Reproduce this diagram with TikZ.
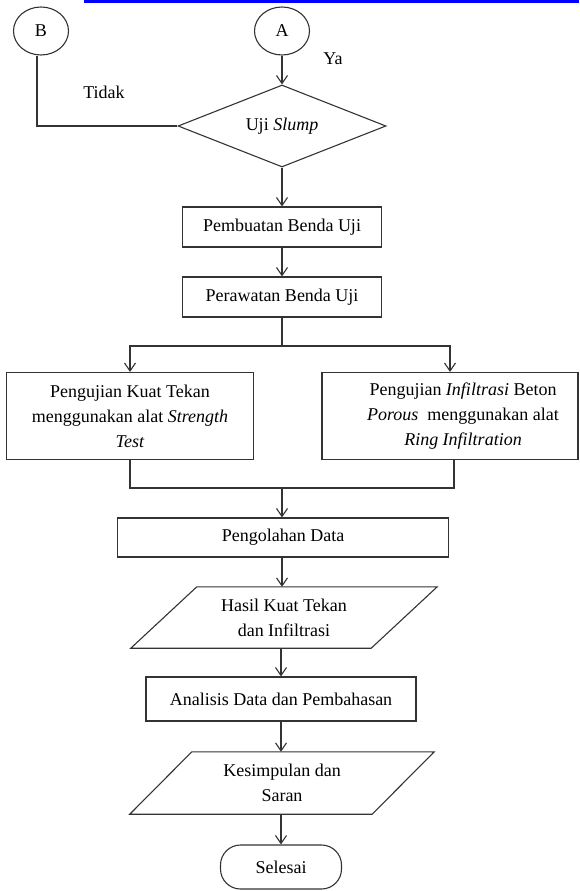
\documentclass[tikz,border=0pt]{standalone}
\usepackage{fontspec}
\setmainfont{Liberation Serif}
\usetikzlibrary{shapes.geometric, arrows.meta}

\tikzset{
  every node/.style={font=\fontsize{18}{25}\selectfont, inner sep=2pt},
  line/.style={draw=black!80, line width=1.1pt},
  arrow/.style={line, -{Straight Barb[length=8pt, width=11pt]}},
  box/.style={line, rectangle, minimum height=40pt},
  decision/.style={line, diamond, aspect=2.5, minimum width=208pt, minimum height=82pt},
  connector/.style={line, ellipse, minimum width=55pt, minimum height=48pt, inner sep=0pt},
  io/.style={rectangle, minimum width=240pt, align=center},
  term/.style={line, rectangle, rounded corners=20pt, minimum width=121pt, minimum height=44pt}
}

\begin{document}
\begin{tikzpicture}[x=1pt, y=-1pt]
\useasboundingbox (0,0) rectangle (579,891);
%\fill [blue] (84,0) rectangle (579,3);
\draw [blue, line width=3pt] (84,1.5) -- (579,1.5);

\node (B) [connector] at (41,31) {B};
\node (A) [connector] at (282,31) {A};
\node (ya) at (333,59) {Ya};
\node (tidak) at (104,92) {Tidak};
\node (slump) [decision] at (282,126) {Uji \textit{Slump}};
\node (buat) [box, minimum width=199pt] at (282,227) {Pembuatan Benda Uji};
\node (rawat) [box, minimum width=199pt] at (282,297) {Perawatan Benda Uji};
\node (kuat) [box, minimum width=247pt, minimum height=87pt, align=center] at (130,416)
  {Pengujian Kuat Tekan\\menggunakan alat \textit{Strength}\\\textit{Test}};
\node (infil) [box, minimum width=256pt, minimum height=87pt] at (450,416) {};
\node (infiltext) [align=center] at (463,416)
  {Pengujian \textit{Infiltrasi} Beton\\\textit{Porous}~ menggunakan alat\\\textit{Ring Infiltration}};
\node (olah) [box, minimum width=331pt, minimum height=39pt] at (283,537.5) {Pengolahan Data};
\node (hasil) [io, minimum height=61pt] at (284,617.5) {Hasil Kuat Tekan\\dan Infiltrasi};
\node (analisis) [box, minimum width=270pt, minimum height=44pt] at (281,699) {Analisis Data dan Pembahasan};
\node (simpul) [io, minimum width=242pt, minimum height=62pt] at (282,783) {Kesimpulan dan\\Saran};
\node (selesai) [term] at (281,867) {Selesai};

\draw [line] ([xshift=33]hasil.north west) -- ([xshift=33]hasil.north east)
  -- ([xshift=-33]hasil.south east) -- ([xshift=-33]hasil.south west) -- cycle;
\draw [line] ([xshift=31]simpul.north west) -- ([xshift=31]simpul.north east)
  -- ([xshift=-31]simpul.south east) -- ([xshift=-31]simpul.south west) -- cycle;

\coordinate (split) at (282,346);
\coordinate (join) at (282,488);

\draw [arrow] (A) -- (slump);
\draw [line] ([xshift=-4]B.south) |- (slump.west);
\draw [arrow] (slump) -- (buat);
\draw [arrow] (buat) -- (rawat);
\draw [line] (rawat) -- (split);
\draw [arrow] (split) -| (kuat.north);
\draw [arrow] (split) -| (infil.north);
\draw [line] (kuat.south) |- (join);
\draw [line] ([xshift=4]infil.south) |- (join);
\draw [arrow] (join) -- (join |- olah.north);
\draw [arrow] (olah.south -| join) -- (join |- hasil.north);
\draw [arrow] (hasil.south -| analisis.north) -- (analisis.north);
\draw [arrow] (analisis) -- (analisis |- simpul.north);
\draw [arrow] (simpul.south -| selesai.north) -- (selesai);
\end{tikzpicture}
\end{document}
